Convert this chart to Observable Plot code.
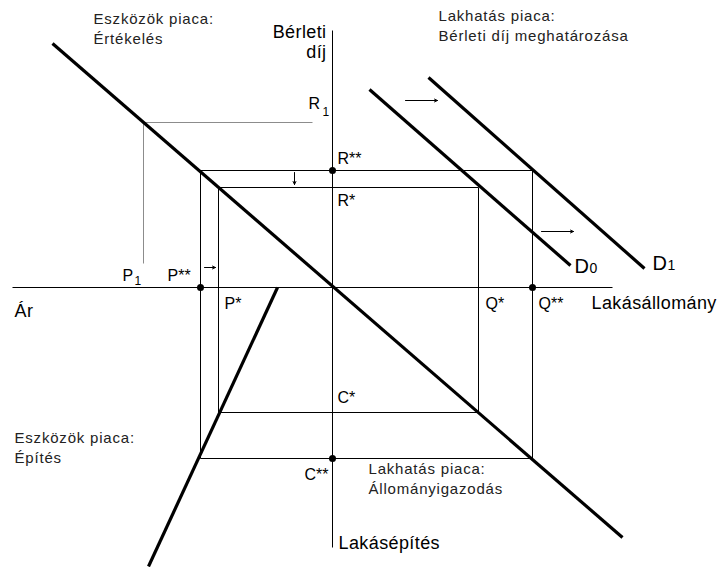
<!DOCTYPE html>
<html><head><meta charset="utf-8">
<script src="https://cdn.jsdelivr.net/npm/d3@7"></script>
<script src="https://cdn.jsdelivr.net/npm/@observablehq/plot@0.6"></script>
<style>body{margin:0;background:#fff}</style>
</head><body><div id="chart"></div>
<script>
// Axes of the four-quadrant diagram
const axisSegments = [
  {x1: 12, y1: 287, x2: 612, y2: 287},
  {x1: 332, y1: 30, x2: 332, y2: 547}
];
// Thick curves: valuation, construction, D0, D1
const curveSegments = [
  {name: "Értékelés", x1: 52, y1: 43, x2: 622, y2: 537},
  {name: "Építés", x1: 277, y1: 287, x2: 148, y2: 566},
  {name: "D0", x1: 369, y1: 89, x2: 570, y2: 265},
  {name: "D1", x1: 428, y1: 77, x2: 644, y2: 268}
];
// Equilibrium rectangles (x, y corners)
const outerRectX = [200, 532, 532, 200, 200];
const outerRectY = [170, 170, 458, 458, 170];
const innerRectX = [218, 478, 478, 218, 218];
const innerRectY = [187, 187, 412, 412, 187];
// Gray helper lines R1 / P1
const graySegments = [
  {x1: 143, y1: 122, x2: 312, y2: 122},
  {x1: 143, y1: 122, x2: 143, y2: 263}
];
// Shift arrows
const arrowSegments = [
  {x1: 405, y1: 100, x2: 437, y2: 100},
  {x1: 541, y1: 231, x2: 573, y2: 231},
  {x1: 294, y1: 172, x2: 294, y2: 184},
  {x1: 204, y1: 267, x2: 215, y2: 267}
];
// Equilibrium dots
const dotX = [332, 200, 532, 332];
const dotY = [170, 287, 287, 458];
// Axis titles (large)
const axisLabelsStart = [
  {text: "Ár", x: 14, y: 316},
  {text: "Lakásállomány", x: 591, y: 308},
  {text: "Lakásépítés", x: 338, y: 548}
];
const axisLabelsEnd = [
  {text: "Bérleti", x: 326, y: 37},
  {text: "díj", x: 326, y: 57}
];
// Quadrant titles
const quadrantLabels = [
  {text: "Eszközök piaca:\nÉrtékelés", x: 93, y: 43},
  {text: "Lakhatás piaca:\nBérleti díj meghatározása", x: 438, y: 40},
  {text: "Eszközök piaca:\nÉpítés", x: 14, y: 462},
  {text: "Lakhatás piaca:\nÁllományigazodás", x: 368, y: 493}
];
// Point labels
const pointLabelsStart = [
  {text: "R", x: 308, y: 108},
  {text: "R**", x: 337, y: 163},
  {text: "R*", x: 337, y: 205},
  {text: "P", x: 122, y: 280},
  {text: "P**", x: 167, y: 280},
  {text: "P*", x: 224, y: 308},
  {text: "Q*", x: 485, y: 308},
  {text: "Q**", x: 538, y: 308},
  {text: "C*", x: 337, y: 402}
];
const pointLabelsEnd = [
  {text: "C**", x: 328, y: 479}
];
const subLabels = [
  {text: "1", x: 322, y: 115},
  {text: "1", x: 134, y: 284}
];
const curveLabels = [
  {text: "D", sub: "0", x: 574, y: 272},
  {text: "D", sub: "1", x: 652, y: 269}
];

const font = "'Liberation Sans', Arial, sans-serif";
const chart = Plot.plot({
  width: 718, height: 567,
  margin: 0,
  x: {domain: [0, 718], range: [0, 718], axis: null},
  y: {domain: [0, 567], range: [0, 567], axis: null},
  style: {fontFamily: font, background: "#fff"},
  marks: [
    Plot.link(graySegments, {x1: "x1", y1: "y1", x2: "x2", y2: "y2", stroke: "#8c8c8c", strokeWidth: 1}),
    Plot.link(axisSegments, {x1: "x1", y1: "y1", x2: "x2", y2: "y2", stroke: "#000", strokeWidth: 1}),
    Plot.line(d3.range(outerRectX.length), {x: i => outerRectX[i], y: i => outerRectY[i], stroke: "#000", strokeWidth: 1}),
    Plot.line(d3.range(innerRectX.length), {x: i => innerRectX[i], y: i => innerRectY[i], stroke: "#000", strokeWidth: 1}),
    Plot.link(curveSegments, {x1: "x1", y1: "y1", x2: "x2", y2: "y2", stroke: "#000", strokeWidth: 3.2}),
    Plot.arrow(arrowSegments, {x1: "x1", y1: "y1", x2: "x2", y2: "y2", stroke: "#000", strokeWidth: 1, headLength: 5, headAngle: 50}),
    Plot.dot(d3.range(dotX.length), {x: i => dotX[i], y: i => dotY[i], r: 3.5, fill: "#000"}),
    Plot.text(axisLabelsStart, {x: "x", y: "y", text: "text", textAnchor: "start", lineAnchor: "bottom", fontSize: 18, fill: "#000"}),
    Plot.text(axisLabelsEnd, {x: "x", y: "y", text: "text", textAnchor: "end", lineAnchor: "bottom", fontSize: 18, fill: "#000"}),
    Plot.text(quadrantLabels, {x: "x", y: "y", text: "text", textAnchor: "start", lineAnchor: "bottom", fontSize: 15, lineHeight: 1.27, fill: "#222"}),
    Plot.text(pointLabelsStart, {x: "x", y: "y", text: "text", textAnchor: "start", lineAnchor: "bottom", fontSize: 16, fill: "#000"}),
    Plot.text(pointLabelsEnd, {x: "x", y: "y", text: "text", textAnchor: "end", lineAnchor: "bottom", fontSize: 16, fill: "#000"}),
    Plot.text(subLabels, {x: "x", y: "y", text: "text", textAnchor: "start", lineAnchor: "bottom", fontSize: 12, fill: "#000"}),
    Plot.text(curveLabels, {x: "x", y: "y", text: "text", textAnchor: "start", lineAnchor: "bottom", fontSize: 20, fill: "#000"}),
    Plot.text(curveLabels, {x: d => d.x + 15, y: "y", text: "sub", textAnchor: "start", lineAnchor: "bottom", fontSize: 14, fill: "#000"})
  ]
});
// letter spacing to match the wider bitmap-style lettering of the original
d3.select(chart).selectAll('g[font-size="15"]').style("letter-spacing", "0.8px");
d3.select(chart).selectAll('g[font-size="18"]').style("letter-spacing", "0.4px");
document.getElementById("chart").append(chart);
</script>
</body></html>
